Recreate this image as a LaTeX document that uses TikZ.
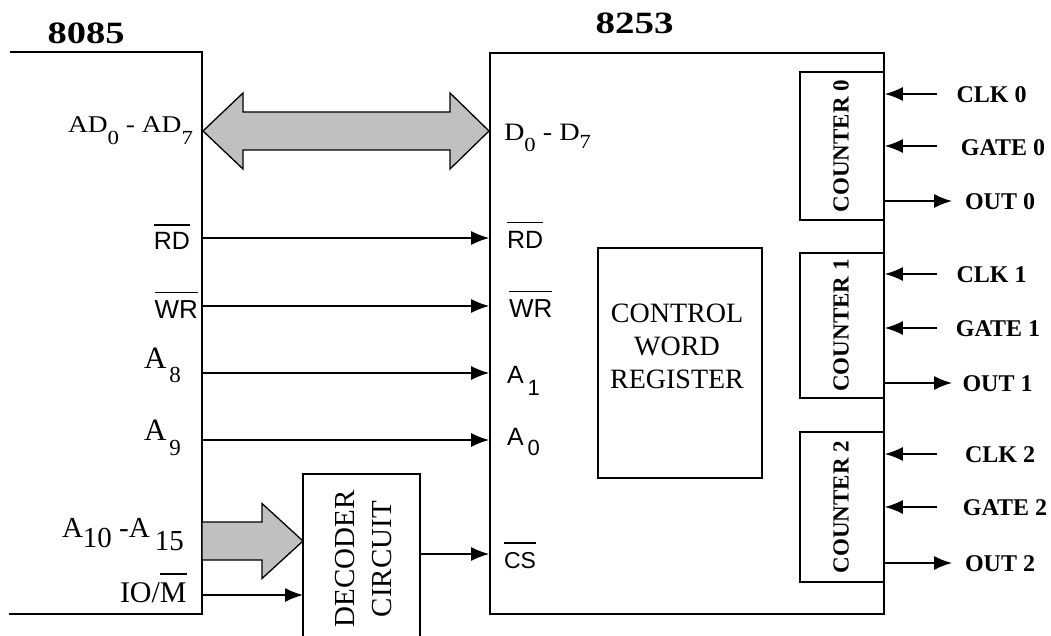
\documentclass[tikz,border=0pt]{standalone}
\usepackage{fontspec}
\setmainfont{Liberation Serif}
\setsansfont{Liberation Sans}
\usepackage{graphicx}
\usetikzlibrary{arrows.meta,calc}
\newcommand\fs[1]{\fontsize{#1}{#1}\selectfont}
\newcommand\ovl[2][7pt]{\vbox{\hrule height 1.6pt\kern#1\hbox{#2}}}
\definecolor{busgray}{RGB}{192,192,192}
\begin{document}
\begin{tikzpicture}[x=1pt,y=-1pt,
  box/.style={draw, line width=1.6pt, inner sep=0pt},
  lab/.style={inner sep=0pt, outer sep=0pt},
  sig/.style={line width=1.6pt, -{Latex[length=18pt,width=14pt]}},
  bus/.style={draw, line width=1.3pt, fill=busgray, line join=miter},
  ctr/.style={lab, rotate=90, font=\bfseries\fs{23}},
  pin/.style={lab, font=\bfseries\fs{24}},
  ser/.style={lab, font=\fs{31}},
  san/.style={lab, font=\sffamily\fs{25}}]
\useasboundingbox (0,0) rectangle (1051,636);

% ---------- 8085 ----------
\coordinate (a-tl) at (10,52);
\coordinate (a-tr) at (202,52);
\coordinate (a-br) at (202,614);
\coordinate (a-bl) at (9,614);
\draw[line width=1.6pt] (a-tl) -- (a-tr) -- (a-br) -- (a-bl);
\node[lab, font=\bfseries\fs{31}] (t8085) at (86,33) {\resizebox{77pt}{\height}{8085}};

% ---------- 8253 ----------
\node[box, minimum width=394pt, minimum height=561pt] (chip) at (687,333.5) {};
\node[lab, font=\bfseries\fs{31}] (t8253) at (634.5,23) {\resizebox{78pt}{\height}{8253}};

% counters
\node[box, minimum width=84pt, minimum height=148pt] (c0) at (842,146) {};
\node[ctr] (c0t) at (841,146) {COUNTER 0};
\node[box, minimum width=84pt, minimum height=145pt] (c1) at (842,325.5) {};
\node[ctr] (c1t) at (841,325.5) {COUNTER 1};
\node[box, minimum width=84pt, minimum height=150pt] (c2) at (842,507) {};
\node[ctr] (c2t) at (841,507) {COUNTER 2};

% control word register
\node[box, minimum width=164pt, minimum height=230pt] (cwr) at (680,363) {};
\node[lab, align=center, font=\fontsize{28}{33}\selectfont] (cwrt) at (677,346.5) {CONTROL\\WORD\\REGISTER};

% decoder
\node[lab, minimum width=117pt, minimum height=162pt, anchor=north west] (dec) at (303,474) {};
\draw[line width=1.6pt] (dec.south west) -- (dec.north west) -- (dec.north east) -- (dec.south east);
\node[lab, rotate=90, align=center, font=\fontsize{29}{37}\selectfont] (dect) at (363.5,559) {DECODER\\CIRCUIT};

% ---------- data bus ----------
\coordinate (busL) at (203,131);
\coordinate (busR) at (489,131);
\draw[bus] (busL) -- ++(40,-38) -- ++(0,19) -- ($(busR)+(-39,-19)$) -- ++(0,-19)
  -- (busR) -- ++(-39,38) -- ++(0,-19) -- ($(busL)+(40,19)$) -- ++(0,19) -- cycle;

% address bus to decoder
\coordinate (abus) at (202,541);
\draw[bus] ($(abus)+(0,-19)$) -- ++(60,0) -- ++(0,-18.5) -- (abus -| dec.west)
  -- ($(abus)+(60,37.5)$) -- ++(0,-18.5) -- ++(-60,0) -- cycle;

% ---------- control signals ----------
\coordinate (s-rd) at (202,238);
\coordinate (s-wr) at (202,306);
\coordinate (s-a8) at (202,373);
\coordinate (s-a9) at (202,440);
\coordinate (s-cs) at (420,554);
\coordinate (s-iom) at (202,595);
\draw[sig] (s-rd) -- (s-rd -| chip.west);
\draw[sig] (s-wr) -- (s-wr -| chip.west);
\draw[sig] (s-a8) -- (s-a8 -| chip.west);
\draw[sig] (s-a9) -- (s-a9 -| chip.west);
\draw[sig] (s-cs -| dec.east) -- (s-cs -| chip.west);
\draw[sig] (s-iom) -- (s-iom -| dec.west);

% ---------- 8085 labels ----------
\node[lab, font=\fs{24}, anchor=base west] (l-ad) at (68,133)
  {\resizebox{125pt}{\height}{AD\raisebox{-12pt}{\fs{20}0} - AD\raisebox{-12pt}{\fs{20}7}}};
\node[san, anchor=base east] (l-rd) at (190,250) {\ovl{RD}};
\node[san, font=\sffamily\fs{26}, anchor=base east] (l-wr) at (198,318) {\ovl{WR}};
\node[ser, anchor=base west] (l-a8) at (144,368) {A\hspace{3pt}\raisebox{-14pt}{\fs{23}8}};
\node[ser, anchor=base west] (l-a9) at (144,440) {A\hspace{3pt}\raisebox{-15pt}{\fs{23}9}};
\node[lab, font=\fs{29}, anchor=base west] (l-a10) at (62,537)
  {A\raisebox{-10pt}{10} -A\hspace{5pt}\raisebox{-13pt}{15}};
\node[ser, font=\fs{30}, anchor=base west] (l-iom) at (120,602) {IO/\ovl[7.5pt]{M}};

% ---------- 8253 labels ----------
\node[lab, font=\fs{25}, anchor=base west] (r-d) at (504,141)
  {\resizebox{87pt}{\height}{D\raisebox{-11pt}{\fs{20}0} - D\raisebox{-8pt}{\fs{20}7}}};
\node[san, anchor=base west] (r-rd) at (507,248) {\ovl[7.5pt]{RD}};
\node[san, font=\sffamily\fs{26}, anchor=base west] (r-wr) at (509,317) {\ovl{WR}};
\node[san, anchor=base west] (r-a1) at (507,383) {A\hspace{4pt}\raisebox{-12pt}{\fs{22}1}};
\node[san, anchor=base west] (r-a0) at (507,445) {A\hspace{4pt}\raisebox{-10pt}{\fs{22}0}};
\node[san, font=\sffamily\fs{23}, anchor=base west] (r-cs) at (504,568) {\ovl[8pt]{CS}};

% ---------- counter pins ----------
\coordinate (clk0) at (937,94);
\coordinate (gate0) at (937,146);
\coordinate (out0) at (952,201);
\coordinate (clk1) at (937,274);
\coordinate (gate1) at (937,328);
\coordinate (out1) at (952,383);
\coordinate (clk2) at (937,454);
\coordinate (gate2) at (937,507);
\coordinate (out2) at (952,563);
\draw[sig] (clk0) -- (clk0 -| c0.east);
\draw[sig] (gate0) -- (gate0 -| c0.east);
\draw[sig] (out0 -| c0.east) -- (out0);
\draw[sig] (clk1) -- (clk1 -| c1.east);
\draw[sig] (gate1) -- (gate1 -| c1.east);
\draw[sig] (out1 -| c1.east) -- (out1);
\draw[sig] (clk2) -- (clk2 -| c2.east);
\draw[sig] (gate2) -- (gate2 -| c2.east);
\draw[sig] (out2 -| c2.east) -- (out2);

\node[pin] (lclk0) at (991.5,95) {CLK 0};
\node[pin] (lgate0) at (1003,148) {GATE 0};
\node[pin] (lout0) at (1000,202) {OUT 0};
\node[pin] (lclk1) at (991.5,275) {CLK 1};
\node[pin] (lgate1) at (998,329) {GATE 1};
\node[pin] (lout1) at (997.5,384) {OUT 1};
\node[pin] (lclk2) at (1000,455) {CLK 2};
\node[pin] (lgate2) at (1005,508) {GATE 2};
\node[pin] (lout2) at (1000,564) {OUT 2};
\end{tikzpicture}
\end{document}
